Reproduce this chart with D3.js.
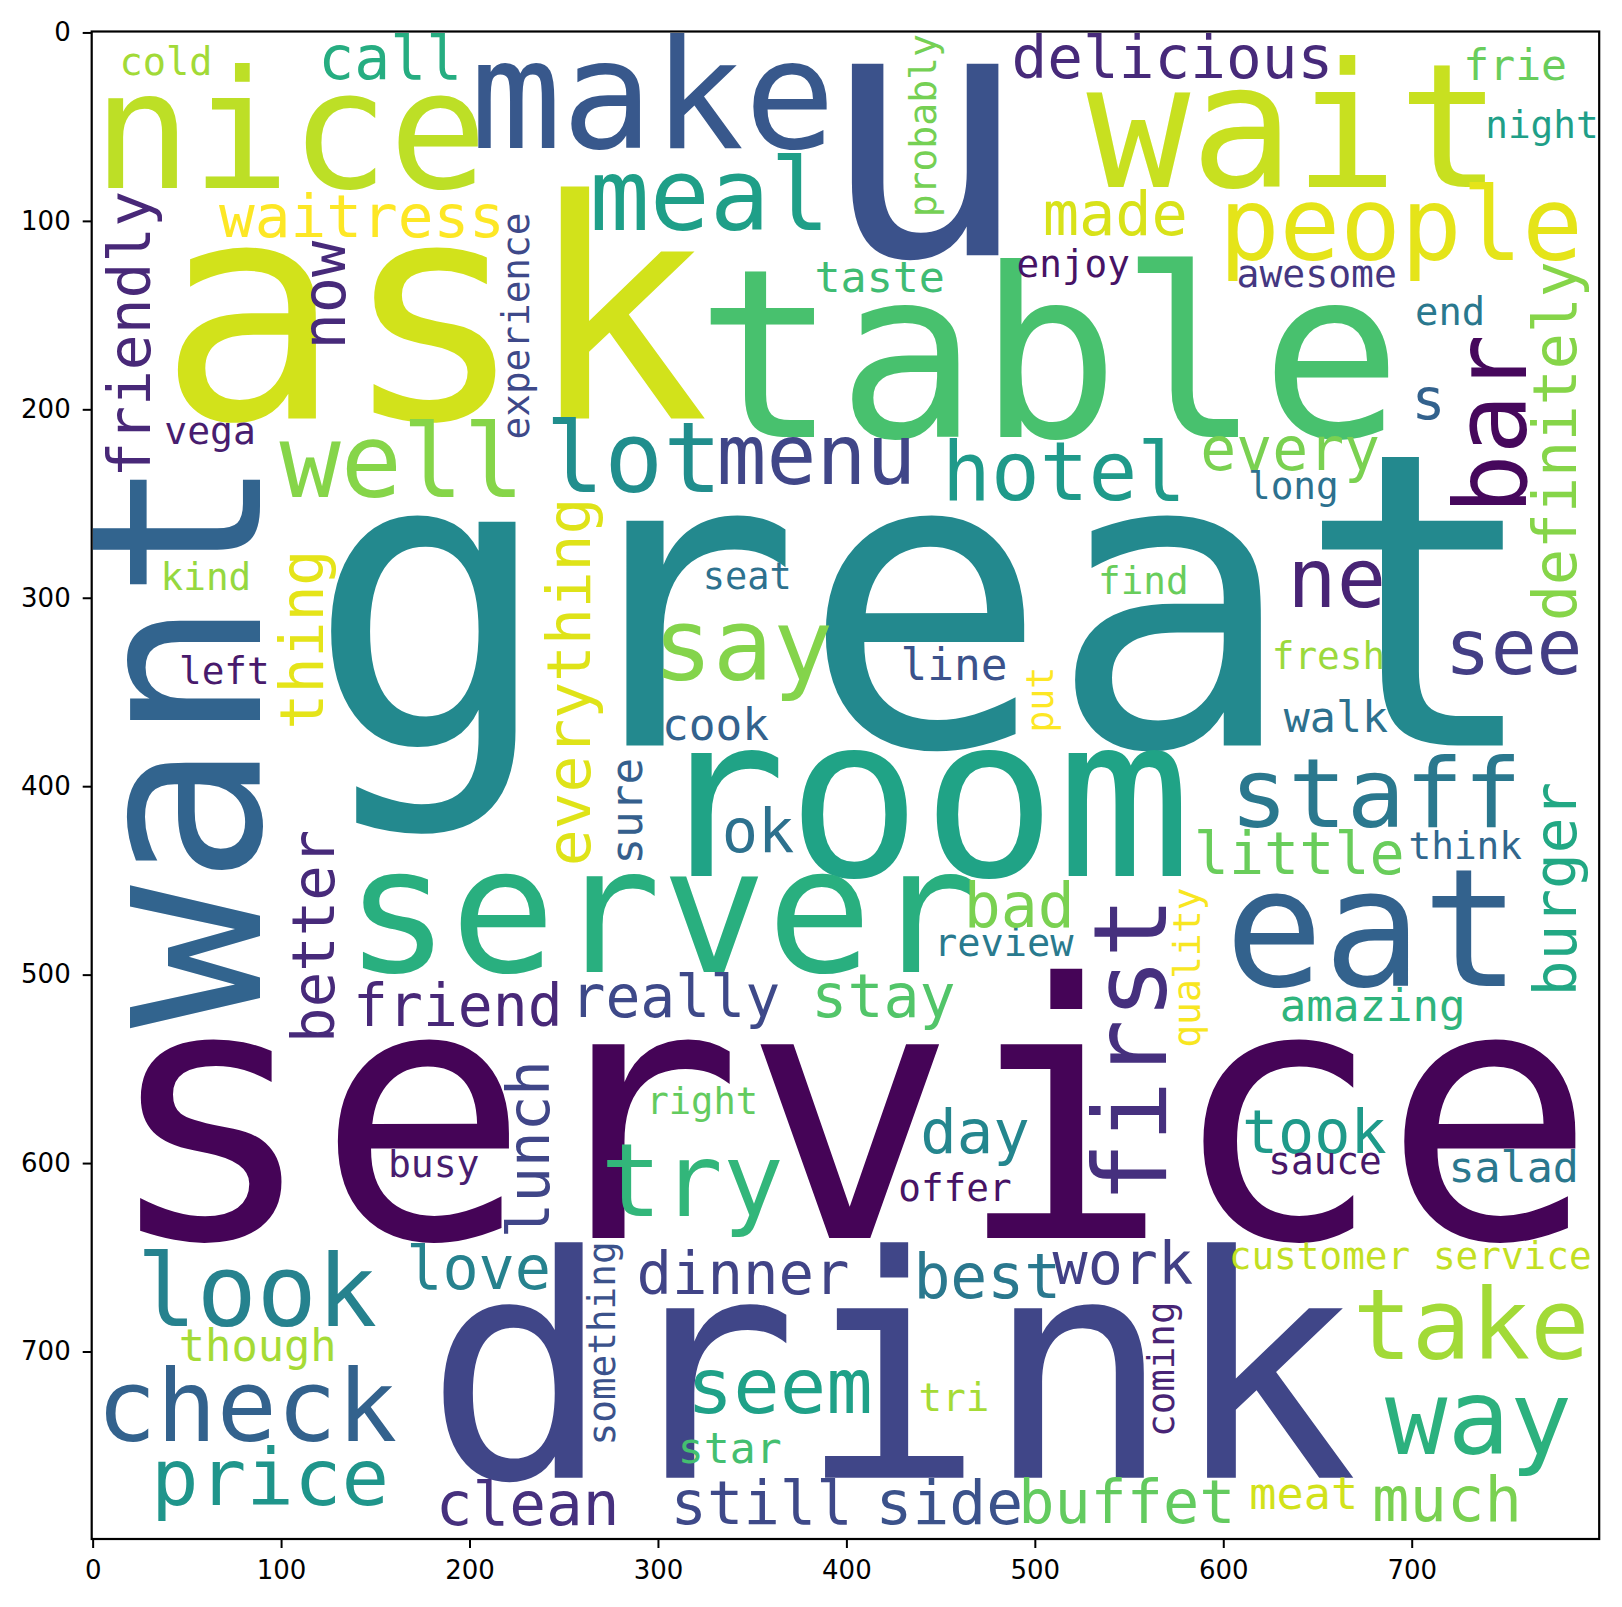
<!DOCTYPE html>
<html>
<head>
<meta charset="utf-8">
<script src="https://cdn.jsdelivr.net/npm/d3@7"></script>
<style>
  body { margin: 0; background: #fff; }
</style>
</head>
<body>
<div id="chart"></div>
<script>
// word cloud; positions in image pixels (800x800 image)
// horizontal words: x = centre, y = baseline. rotated words: x = baseline, y = centre
let words = [
  "service","great","drink","ask","table","u","want","room","server","nice",
  "make","wait","eat","first","people","bar","staff","look","check","take",
  "way","price","meal","well","lot","menu","hotel","say","seem","try",
  "ne","see","definitely","burger","delicious","call","waitress","friendly","now","experience",
  "cold","vega","probably","taste","made","enjoy","awesome","frie","night","end",
  "s","every","long","kind","left","thing","better","everything","seat","line",
  "put","cook","sure","ok","review","bad","really","stay","find","fresh",
  "walk","little","think","quality","amazing","took","sauce","salad","customer service","work",
  "coming","meat","much","buffet","something","right","day","offer","dinner","best",
  "tri","star","still","side","clean","friend","busy","lunch","love","though"
];

let wordX = [
  401.8,441.6,423.9,181,507.5,441.2,88.9,440,301.8,104.8,
  297.3,637.6,679.3,569.5,694.3,760.7,681,87.1,81.8,731.5,
  735.5,94.2,327.5,164.2,287.2,384.1,515.5,345.1,364.6,318.2,
  660.2,754.1,787.2,787.2,573,157.9,142.9,30.5,134,231.6,
  38.9,62.3,447.4,417.7,542.7,520.4,649.6,754.9,769.1,720.4,
  708.9,635.5,637.2,60.1,69.9,122.5,127.9,264.2,347.4,457.1,
  509.4,330.5,291.6,353.1,483.5,491.7,309.2,419.7,557.6,655.8,
  659.8,640.3,728.4,587.6,679.3,648.3,654,754.1,699.2,546.7,
  573.9,642.7,718.7,548.8,277.4,323.5,468.2,457.6,345.1,474.8,
  457.1,338.1,355,454.6,230.8,193.8,181,242,204.8,87.6
];

let wordY = [
  639.7,378.4,767,204.9,214.7,118.2,376.8,447.4,498.8,82.7,
  61.5,81.9,505.8,540,120.8,208,421.8,686.4,747.5,704.1,
  754.5,781.5,104.9,246.5,243.9,239.4,248.3,343.9,732.5,628,
  305,340.3,216.9,454.6,24.3,24.7,108.4,160.2,139.4,155.8,
  22.6,218.2,49.5,137.6,107.5,129.7,135,25.2,56,155.3,
  204.9,232.3,247.4,296.1,345.6,322.2,479.7,344.7,295.2,343.9,
  354.1,375.7,413.3,435,489.9,474.9,522.7,522.7,297.8,337.6,
  371.3,446.5,438.6,496.3,524.4,594.4,605.8,610.3,656.3,664.3,
  709.4,783.4,790,791,695.7,574,594.4,620,669.6,671.4,
  731.5,759,791.5,791.5,792,527.1,607.6,592.6,666.9,705
];

// font size in image pixels
let wordSize = [
  188,218,164.5,162,124.5,186,126,119,93,87,
  80.5,91.5,87,54,53.5,53,51.5,53,53,52.2,
  55,42,53,54,52,44,43,53,41,53.8,
  43.5,40.5,31.7,31.5,31.5,31.7,31.5,31.6,32,20,
  20.5,20.2,20.2,23,32,20,20.2,22.9,20,20.6,
  30,31.7,20,20,20,31.7,31.3,32.5,19.6,23.6,
  19.5,23.6,23.5,32,20.5,32.6,30.8,31.8,20,20,
  23,31,20,20.2,23.4,31.9,20,23,20,31,
  19.9,24,33,31.9,20,19.7,32.2,20,31.3,32.6,
  20.8,22.9,32.1,32.5,32.4,30.8,20.2,31.4,31.9,23.2
];

// position on the viridis ramp
let wordTone = [
  0.01,0.47,0.21,0.93,0.71,0.25,0.32,0.58,0.63,0.9,
  0.27,0.915,0.31,0.14,0.96,0.02,0.4,0.44,0.31,0.86,
  0.64,0.52,0.56,0.82,0.49,0.21,0.54,0.815,0.57,0.66,
  0.1,0.18,0.82,0.6,0.12,0.62,1.0,0.11,0.12,0.22,
  0.86,0.08,0.79,0.69,0.94,0.05,0.16,0.77,0.56,0.4,
  0.31,0.8,0.37,0.84,0.07,0.96,0.12,0.95,0.37,0.25,
  1.0,0.31,0.3,0.37,0.41,0.8,0.22,0.73,0.77,0.85,
  0.37,0.77,0.33,0.99,0.65,0.54,0.06,0.4,0.91,0.19,
  0.1,0.93,0.8,0.76,0.25,0.76,0.46,0.05,0.2,0.4,
  0.865,0.7,0.22,0.25,0.14,0.11,0.08,0.21,0.44,0.865
];

let rotatedWords = ["want","first","bar","definitely","burger","friendly","now","experience",
  "probably","thing","better","everything","put","sure","quality","coming","something","lunch"];

let tickValues = [0, 100, 200, 300, 400, 500, 600, 700];

let width = 1622,
    height = 1607;

let svg = d3.select("#chart")
    .append("svg")
    .attr("width", width)
    .attr("height", height);

svg.append("rect")
    .attr("width", width)
    .attr("height", height)
    .attr("fill", "#fff");

// imshow extent: pixel centres at integers
let x = d3.scaleLinear().domain([-0.5, 799.5]).range([91.7, 1599.2]);
let y = d3.scaleLinear().domain([-0.5, 799.5]).range([31.5, 1539]);
let color = d3.scaleSequential(d3.interpolateViridis).domain([0, 1]);
let k = x(1) - x(0);

let cloud = words.map(function(w, i) {
    return {text: w, x: wordX[i], y: wordY[i], size: wordSize[i],
            tone: wordTone[i], vertical: rotatedWords.indexOf(w) >= 0};
});

svg.append("clipPath")
    .attr("id", "img")
    .append("rect")
    .attr("x", x(-0.5))
    .attr("y", y(-0.5))
    .attr("width", x(799.5) - x(-0.5))
    .attr("height", y(799.5) - y(-0.5));

let g = svg.append("g").attr("clip-path", "url(#img)");

g.selectAll("text")
    .data(cloud)
    .enter()
    .append("text")
    .attr("transform", function(d) {
        return "translate(" + x(d.x) + "," + y(d.y) + ")" + (d.vertical ? " rotate(-90)" : "");
    })
    .attr("text-anchor", "middle")
    .style("font-family", "'DejaVu Sans Mono', monospace")
    .style("font-size", function(d) { return (d.size * k) + "px"; })
    .attr("fill", function(d) { return color(d.tone); })
    .text(function(d) { return d.text; });

// axes
let xAxis = d3.axisBottom(x).tickValues(tickValues).tickSize(9).tickPadding(13).tickFormat(d3.format("d"));
let yAxis = d3.axisLeft(y).tickValues(tickValues).tickSize(9).tickPadding(12).tickFormat(d3.format("d"));

let gx = svg.append("g")
    .attr("transform", "translate(0," + y(799.5) + ")")
    .call(xAxis);
let gy = svg.append("g")
    .attr("transform", "translate(" + x(-0.5) + ",0)")
    .call(yAxis);

[gx, gy].forEach(function(a) {
    a.select(".domain").remove();
    a.selectAll(".tick line").attr("stroke", "#000").attr("stroke-width", 2);
    a.selectAll(".tick text")
        .attr("fill", "#000")
        .style("font-family", "'DejaVu Sans', sans-serif")
        .style("font-size", "26px");
});

svg.append("rect")
    .attr("x", x(-0.5))
    .attr("y", y(-0.5))
    .attr("width", x(799.5) - x(-0.5))
    .attr("height", y(799.5) - y(-0.5))
    .attr("fill", "none")
    .attr("stroke", "#000")
    .attr("stroke-width", 2.2);
</script>
</body>
</html>
